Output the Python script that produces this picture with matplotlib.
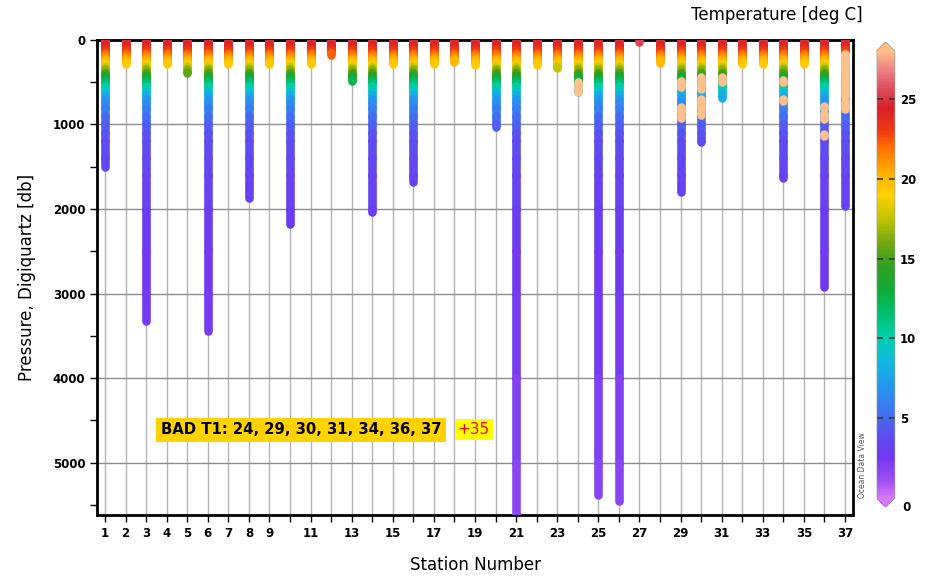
import numpy as np
import matplotlib.pyplot as plt
from matplotlib.collections import LineCollection
from matplotlib.colors import LinearSegmentedColormap, Normalize
from matplotlib.cm import ScalarMappable

# station numbers and deepest pressure reached (db)
stations = list(range(1, 38))
max_pressure = [1500, 285, 3330, 285, 390, 3440, 285, 1870, 280, 2180,
                280, 180, 485, 2040, 285, 1680, 285, 260, 295, 1030,
                5700, 295, 330, 615, 5380, 5450, 20, 270, 1800, 1210,
                690, 285, 285, 1635, 280, 2925, 1970]

# typical temperature profile read along the columns
profile_pressure = [0, 25, 50, 75, 100, 125, 150, 175, 200, 225, 250, 275, 300,
                    325, 350, 375, 400, 425, 450, 475, 500, 550, 600, 650, 700,
                    750, 800, 900, 1000, 1100, 1200, 1400, 1600, 2000, 2500,
                    3000, 4000, 5000, 5700]
profile_temp = [25.3, 25.0, 24.6, 24.2, 23.7, 23.0, 22.3, 21.6, 21.0, 20.4, 19.8,
                19.2, 18.5, 17.6, 16.6, 15.6, 14.7, 13.9, 13.1, 12.3, 11.5, 10.2,
                9.0, 8.0, 7.2, 6.5, 5.9, 5.1, 4.5, 4.1, 3.8, 3.4, 3.1, 2.8, 2.5,
                2.3, 2.0, 1.7, 1.5]

# bad T1 spikes (+35), shown above the colour range
bad_station = [24, 29, 29, 29, 29, 30, 30, 30, 30, 31, 34, 34, 36, 36, 36, 37, 37]
bad_top = [500, 490, 790, 830, 900, 440, 500, 700, 870, 440, 480, 700, 780, 880, 1110, 170, 720]
bad_bottom = [615, 560, 810, 850, 920, 460, 580, 820, 890, 500, 500, 720, 800, 940, 1140, 660, 820]

# ODV style rainbow
cmap_values = [0, 1, 2.5, 4, 5.5, 7, 8.5, 10, 11.5, 13, 14.5, 16, 17.5, 19,
               20.5, 22, 23, 24.5, 26, 27, 28]
cmap_colors = ['#d478f8', '#a050f5', '#7038f0', '#5a50f0', '#3c78f0', '#2496f0',
               '#10b8e0', '#00d0b0', '#00c070', '#10ac38', '#30a020', '#70a810',
               '#c0c400', '#ffd000', '#ffaa00', '#ff7000', '#f03a10', '#d82028',
               '#e05a66', '#f08888', '#ffbc88']
vmin, vmax = 0, 28
cmap = LinearSegmentedColormap.from_list(
    'odv', [((v - vmin) / (vmax - vmin), c) for v, c in zip(cmap_values, cmap_colors)])
cmap.set_over('#ffc08c')
cmap.set_under('#d478f8')
norm = Normalize(vmin, vmax)

fig = plt.figure(figsize=(9.26, 5.78), dpi=100)
ax = fig.add_axes([0.1048, 0.109, 0.8164, 0.822])

segs = []
temps = []
for st, pmax in zip(stations, max_pressure):
    for i in range(len(profile_pressure) - 1):
        p0 = profile_pressure[i]
        if p0 >= pmax:
            break
        p1 = min(profile_pressure[i + 1], pmax)
        segs.append([(st, p0), (st, p1)])
        temps.append(profile_temp[i])

lc = LineCollection(segs, cmap=cmap, norm=norm, linewidths=6.2,
                    capstyle='round', zorder=3)
lc.set_array(np.array(temps))
ax.add_collection(lc)

bad_segs = [[(s, t), (s, b)] for s, t, b in zip(bad_station, bad_top, bad_bottom)]
ax.add_collection(LineCollection(bad_segs, colors=cmap.get_over(), linewidths=6.2,
                                 capstyle='round', zorder=4))

ax.set_xlim(0.61, 37.39)
ax.set_ylim(5620, 0)
ax.set_xticks(stations)
ax.set_xticklabels([str(s) if s < 10 or s % 2 == 1 else '' for s in stations])
ax.set_yticks(range(0, 6000, 1000))
ax.set_yticks(range(500, 6000, 1000), minor=True)
ax.set_axisbelow(True)
ax.grid(axis='x', color='#b4b4b4', lw=1)
ax.grid(axis='y', which='major', color='#8c8c8c', lw=1)
ax.tick_params(axis='both', which='both', direction='out', length=5, width=1,
               labelsize=8.5)
for lab in ax.get_xticklabels() + ax.get_yticklabels():
    lab.set_fontweight('bold')
for sp in ax.spines.values():
    sp.set_linewidth(2)

ax.set_xlabel('Station Number', fontsize=12, labelpad=12)
ax.set_ylabel('Pressure, Digiquartz [db]', fontsize=12, labelpad=12)

ax.text(3.7, 4610, 'BAD T1: 24, 29, 30, 31, 34, 36, 37', fontsize=10.7,
        fontweight='bold', va='center', ha='left', zorder=5,
        bbox=dict(boxstyle='square,pad=0.3', fc='#ffd200', ec='none'))
ax.text(18.15, 4610, '+35', fontsize=11, color='red', va='center', ha='left',
        zorder=5, bbox=dict(boxstyle='square,pad=0.2', fc='#ffff00', ec='none'))

# colour bar
cax = fig.add_axes([0.947, 0.1228, 0.0194, 0.8045])
cb = fig.colorbar(ScalarMappable(norm=norm, cmap=cmap), cax=cax,
                  extend='both', extendfrac=0.02)
cb.outline.set_linewidth(0.4)
cb.outline.set_edgecolor('#999999')
cb.set_ticks([5, 10, 15, 20, 25])
cax.tick_params(direction='in', length=4, width=1.2, left=True, right=True,
                color='#333333', labelsize=8.5)
for lab in cax.get_yticklabels():
    lab.set_fontweight('bold')
cax.text(1.0, -0.021, '  0', transform=cax.transAxes, va='center', ha='left',
         fontsize=8.5, fontweight='bold')

fig.text(0.932, 0.974, 'Temperature [deg C]', ha='right', va='center', fontsize=12)
fig.text(0.931, 0.195, 'Ocean Data View', rotation=90, ha='center', va='center',
         fontsize=5.5, color='#555555')

plt.savefig('out.png', dpi=100)
